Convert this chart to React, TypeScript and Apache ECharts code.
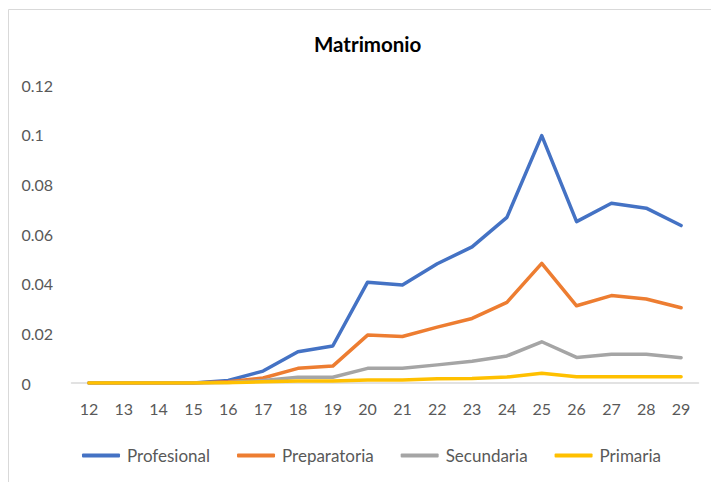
import React, { useEffect, useRef } from "react";
import * as echarts from "echarts";

const categories = ["12","13","14","15","16","17","18","19","20","21","22","23","24","25","26","27","28","29"];
const profesional = [0,0,0,0,0.001,0.0048,0.0126,0.0149,0.0406,0.0395,0.048,0.0548,0.0667,0.0996,0.065,0.0724,0.0704,0.0634];
const preparatoria = [0,0,0,0,0.0005,0.002,0.0059,0.0068,0.0193,0.0187,0.0225,0.026,0.0325,0.0482,0.0311,0.0352,0.0338,0.0303];
const secundaria = [0,0,0,0,0.0002,0.001,0.0023,0.0023,0.0059,0.0059,0.0073,0.0088,0.0109,0.0166,0.0103,0.0116,0.0116,0.0102];
const primaria = [0,0,0,0,0.0001,0.0005,0.0008,0.0008,0.0012,0.0012,0.0017,0.0018,0.0024,0.0039,0.0025,0.0025,0.0025,0.0025];
const yTicks = [0, 0.02, 0.04, 0.06, 0.08, 0.1, 0.12];

const FONT = "Lato, 'Open Sans', sans-serif";

export default function App() {
  const ref = useRef<HTMLDivElement>(null);
  useEffect(() => {
    const chart = echarts.init(ref.current!, null, { renderer: "svg" });
    const mk = (name: string, data: number[], color: string) => ({
      name,
      type: "line",
      data,
      symbol: "none",
      lineStyle: { color, width: 3.5, cap: "round", join: "round" },
      itemStyle: { color },
    });
    chart.setOption({
      animation: false,
      backgroundColor: "#ffffff",
      graphic: [
        {
          type: "rect",
          shape: { x: 8.5, y: 9.5, width: 720, height: 490 },
          style: { fill: "none", stroke: "#d9d9d9", lineWidth: 1 },
          silent: true,
        },
      ],
      title: {
        text: "Matrimonio",
        left: 309,
        top: 28,
        textStyle: { fontFamily: FONT, fontSize: 20.5, fontWeight: "bold", color: "#000000" },
      },
      legend: {
        bottom: 13,
        left: 77,
        itemWidth: 38,
        itemHeight: 4,
        itemGap: 27,
        icon: "roundRect",
        textStyle: { fontFamily: FONT, fontSize: 17, color: "#595959", padding: [0, 0, 0, 2] },
        data: ["Profesional", "Preparatoria", "Secundaria", "Primaria"],
      },
      grid: { left: 71.5, right: 12.5, top: 85, bottom: 99, containLabel: false },
      xAxis: {
        type: "category",
        data: categories,
        boundaryGap: true,
        axisLine: { lineStyle: { color: "#d9d9d9", width: 1.5 } },
        axisTick: { show: false },
        axisLabel: { fontFamily: FONT, fontSize: 16, color: "#595959", margin: 17 },
      },
      yAxis: {
        type: "value",
        min: yTicks[0],
        max: yTicks[yTicks.length - 1],
        interval: 0.02,
        splitLine: { show: false },
        axisLine: { show: false },
        axisTick: { show: false },
        axisLabel: {
          fontFamily: FONT,
          fontSize: 16,
          color: "#595959",
          margin: 0,
          align: "left",
          padding: [0, 0, 0, -50],
          formatter: (v: number) => String(Number(v.toFixed(2))),
        },
      },
      series: [
        mk("Profesional", profesional, "#4472c4"),
        mk("Preparatoria", preparatoria, "#ed7d31"),
        mk("Secundaria", secundaria, "#a5a5a5"),
        mk("Primaria", primaria, "#ffc000"),
      ],
    });
    return () => chart.dispose();
  }, []);
  return (
    <div
      ref={ref}
      style={{ position: "fixed", left: 0, top: 0, width: 711, height: 482 }}
    />
  );
}
